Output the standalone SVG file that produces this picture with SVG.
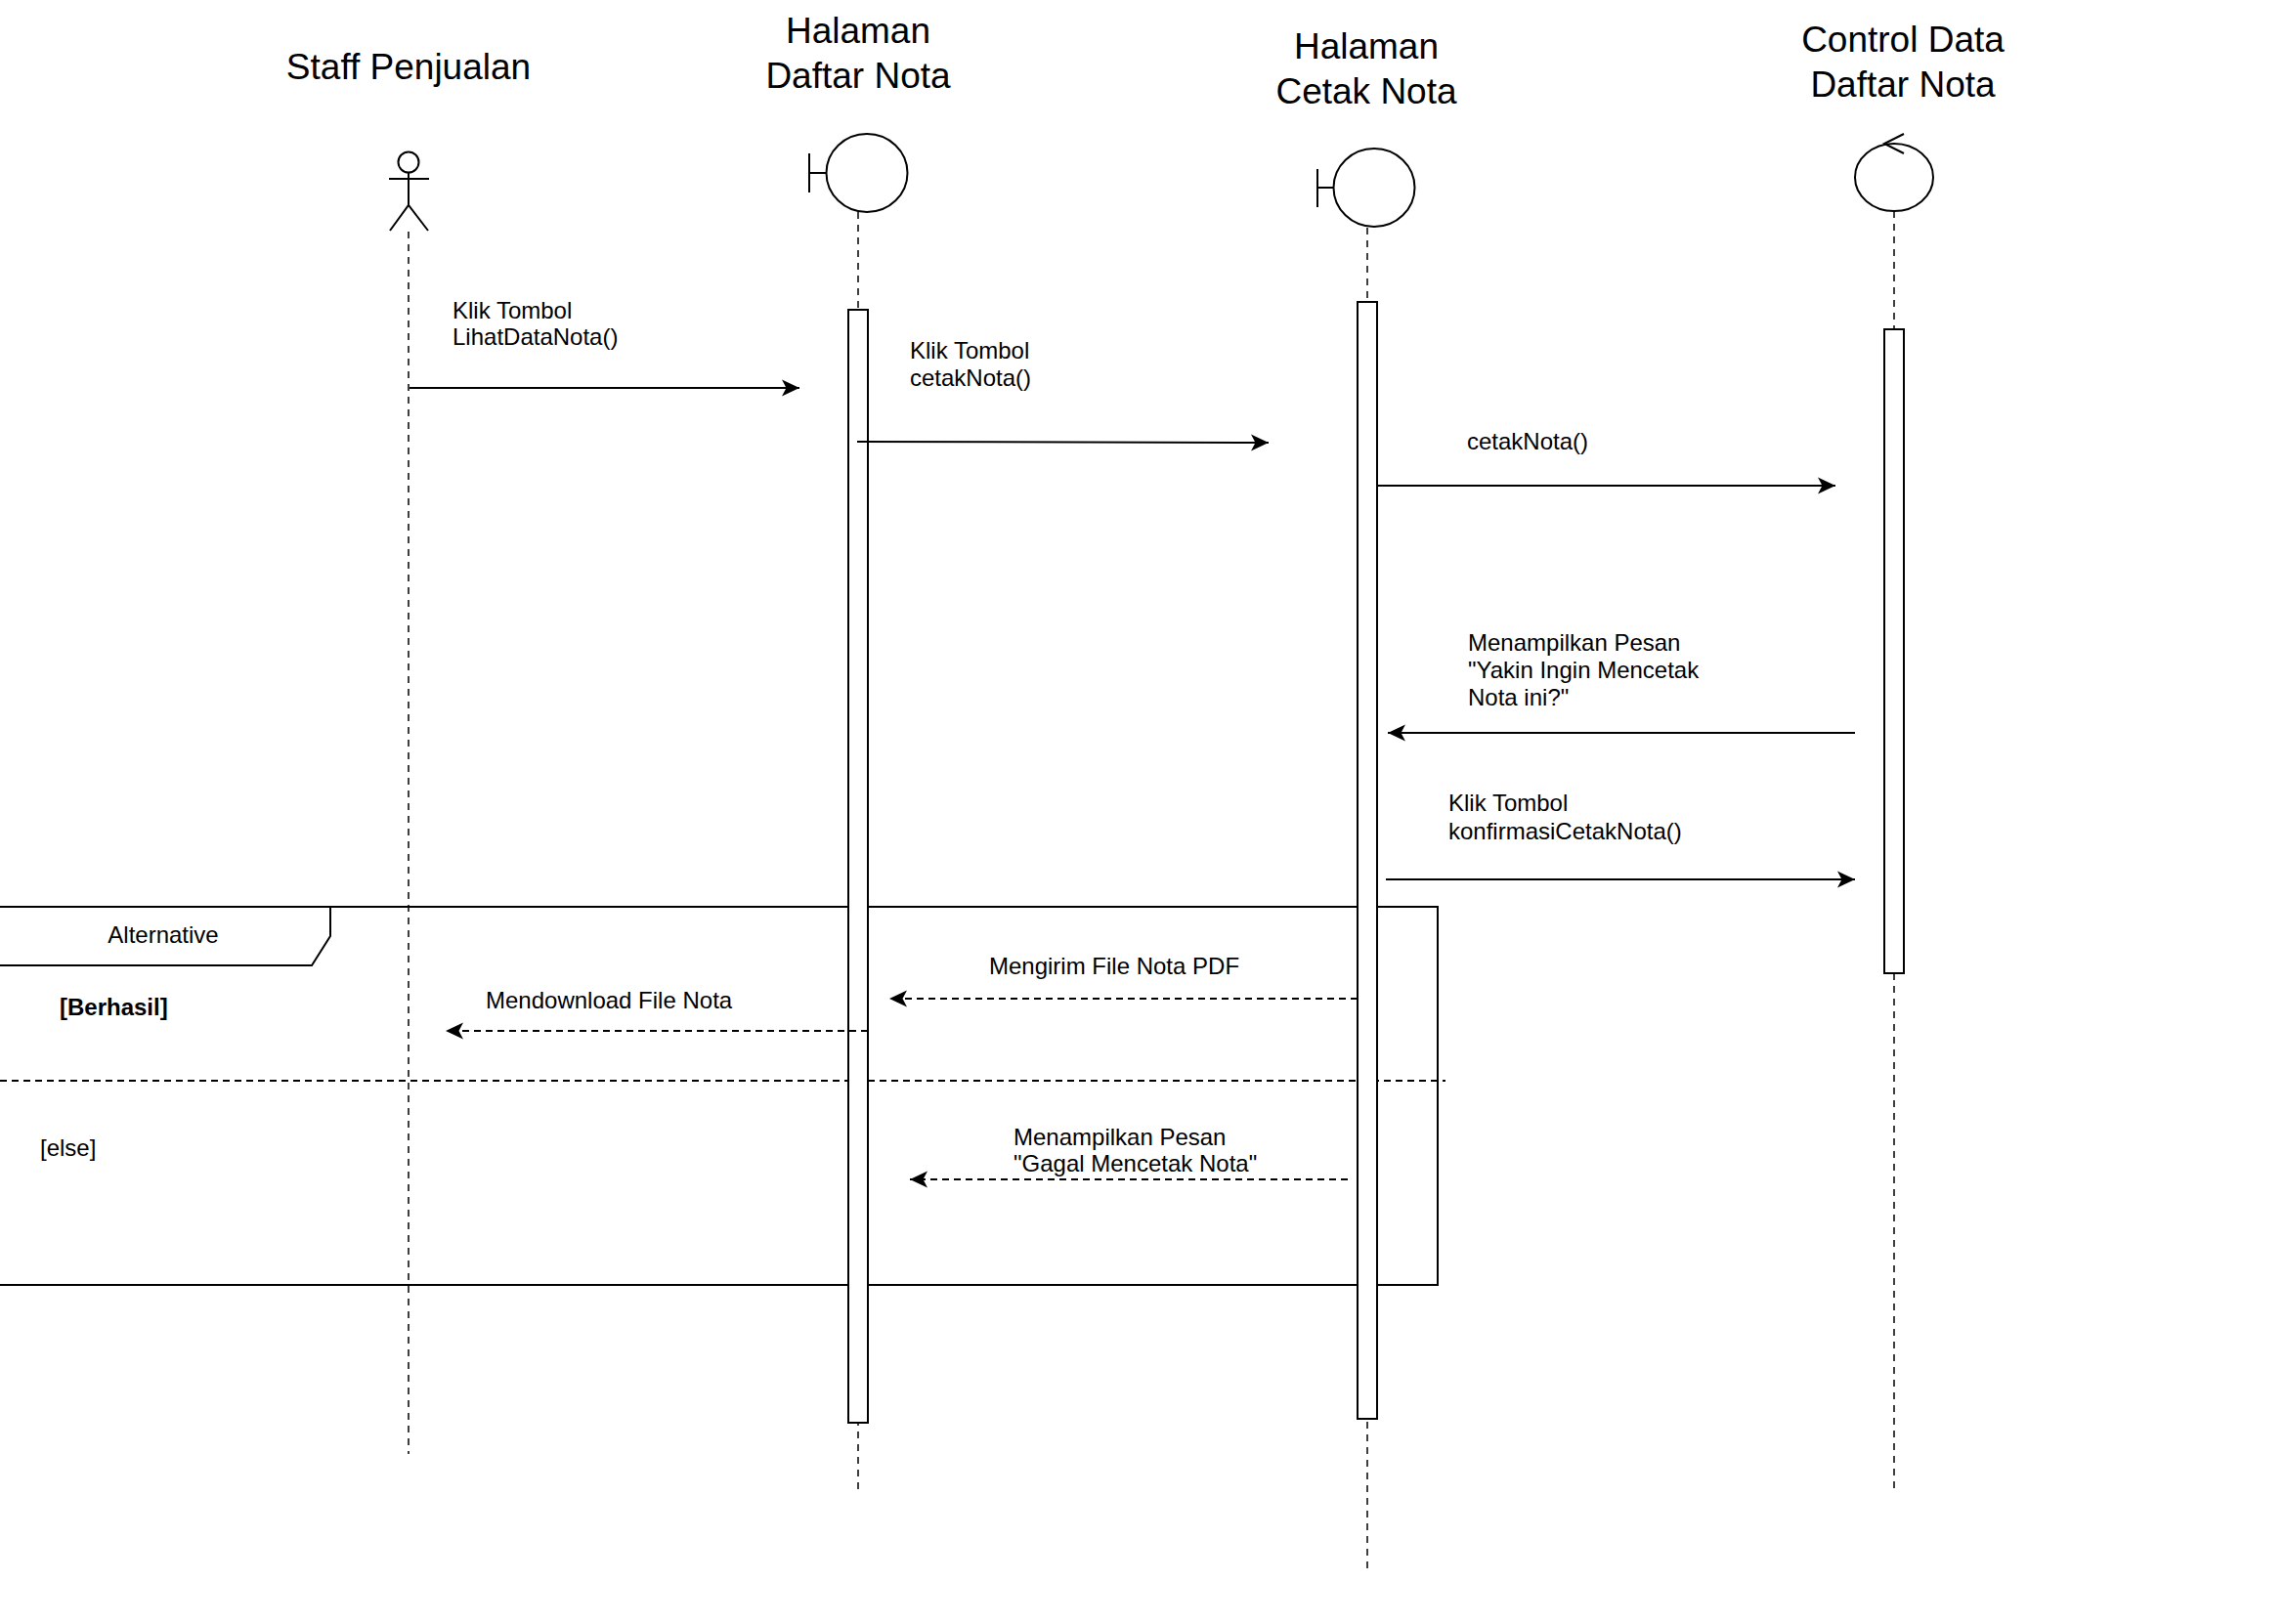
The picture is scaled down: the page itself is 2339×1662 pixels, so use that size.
<svg xmlns="http://www.w3.org/2000/svg" width="2339" height="1662" viewBox="0 0 2339 1662">
<style>
  .title { font-family: "Liberation Sans", Arial, Helvetica, sans-serif; font-size: 37px; fill: #000; text-anchor: middle; }
  .lbl { font-family: "Liberation Sans", Arial, Helvetica, sans-serif; font-size: 24px; fill: #000; }
  .bold { font-weight: bold; }
  .shape { fill: #fff; stroke: #000; stroke-width: 2; }
  .line { fill: none; stroke: #000; stroke-width: 2; }
  .life { fill: none; stroke: #000; stroke-width: 1.5; stroke-dasharray: 7 6; }
  .msg { fill: none; stroke: #000; stroke-width: 2; marker-end: url(#arrow); }
  .ret { fill: none; stroke: #000; stroke-width: 2; stroke-dasharray: 7 5; marker-end: url(#arrow); }
  .sep { fill: none; stroke: #000; stroke-width: 2; stroke-dasharray: 7 5; }
</style>
<defs>
  <marker id="arrow" markerUnits="userSpaceOnUse" markerWidth="22" markerHeight="22" refX="18" refY="9" orient="auto">
    <path d="M0,0.5 L18,9 L0,17.5 L4.5,9 Z" fill="#000" stroke="none"/>
  </marker>
</defs>
<rect x="0" y="0" width="2339" height="1662" fill="#fff"/>

<g id="lifelines">
  <line class="life" x1="418" y1="237" x2="418" y2="1488"/>
  <line class="life" x1="878" y1="217" x2="878" y2="1528"/>
  <line class="life" x1="1399" y1="233" x2="1399" y2="1607"/>
  <line class="life" x1="1938" y1="216" x2="1938" y2="1528"/>
</g>

<g id="alt-frame">
  <rect class="line" x="-10" y="928" width="1481" height="387"/>
  <path class="line" d="M-10,988 L319,988 L338,958 L338,928"/>
  <text class="lbl" x="167" y="965" text-anchor="middle">Alternative</text>
  <text class="lbl bold" x="61" y="1039">[Berhasil]</text>
  <line class="sep" x1="0" y1="1106" x2="1479" y2="1106"/>
  <text class="lbl" x="41" y="1183">[else]</text>
</g>

<g id="staff">
  <text class="title" x="418" y="81">Staff Penjualan</text>
  <circle class="shape" cx="418" cy="166" r="10.5"/>
  <line class="line" x1="418" y1="176.5" x2="418" y2="210"/>
  <line class="line" x1="398" y1="183" x2="439" y2="183"/>
  <path class="line" d="M399,236 L418,210 L438,236"/>
</g>

<g id="halaman-daftar-nota">
  <text class="title" x="878" y="44">Halaman</text>
  <text class="title" x="878" y="90">Daftar Nota</text>
  <line class="line" x1="828" y1="157" x2="828" y2="197"/>
  <line class="line" x1="828" y1="177" x2="846" y2="177"/>
  <ellipse class="shape" cx="887" cy="177" rx="41.5" ry="40"/>
  <rect class="shape" x="868" y="317" width="20" height="1139"/>
</g>

<g id="halaman-cetak-nota">
  <text class="title" x="1398" y="60">Halaman</text>
  <text class="title" x="1398" y="106">Cetak Nota</text>
  <line class="line" x1="1348" y1="173" x2="1348" y2="212"/>
  <line class="line" x1="1348" y1="192" x2="1365" y2="192"/>
  <ellipse class="shape" cx="1406" cy="192" rx="41.5" ry="40"/>
  <rect class="shape" x="1389" y="309" width="20" height="1143"/>
</g>

<g id="control-data-daftar-nota">
  <text class="title" x="1947" y="53">Control Data</text>
  <text class="title" x="1947" y="99">Daftar Nota</text>
  <ellipse class="shape" cx="1938" cy="181.5" rx="40" ry="34.5"/>
  <path class="line" d="M1948,137 L1928,147 L1948,157"/>
  <rect class="shape" x="1928" y="337" width="20" height="659"/>
</g>

<g id="connectors">
  <line class="msg" x1="419" y1="397" x2="818" y2="397"/>
  <text class="lbl" x="463" y="326">Klik Tombol</text>
  <text class="lbl" x="463" y="353">LihatDataNota()</text>

  <line class="msg" x1="877" y1="452" x2="1298" y2="453"/>
  <text class="lbl" x="931" y="367">Klik Tombol</text>
  <text class="lbl" x="931" y="395">cetakNota()</text>

  <line class="msg" x1="1409" y1="497" x2="1878" y2="497"/>
  <text class="lbl" x="1501" y="460">cetakNota()</text>

  <line class="msg" x1="1898" y1="750" x2="1420" y2="750"/>
  <text class="lbl" x="1502" y="666">Menampilkan Pesan</text>
  <text class="lbl" x="1502" y="694">"Yakin Ingin Mencetak</text>
  <text class="lbl" x="1502" y="722">Nota ini?"</text>

  <line class="msg" x1="1418" y1="900" x2="1898" y2="900"/>
  <text class="lbl" x="1482" y="830">Klik Tombol</text>
  <text class="lbl" x="1482" y="859">konfirmasiCetakNota()</text>

  <line class="ret" x1="1389" y1="1022" x2="910" y2="1022"/>
  <text class="lbl" x="1012" y="997">Mengirim File Nota PDF</text>

  <line class="ret" x1="888" y1="1055" x2="456" y2="1055"/>
  <text class="lbl" x="497" y="1032">Mendownload File Nota</text>

  <line class="ret" x1="1379" y1="1207" x2="931" y2="1207"/>
  <text class="lbl" x="1037" y="1172">Menampilkan Pesan</text>
  <text class="lbl" x="1037" y="1199">"Gagal Mencetak Nota"</text>
</g>
</svg>
